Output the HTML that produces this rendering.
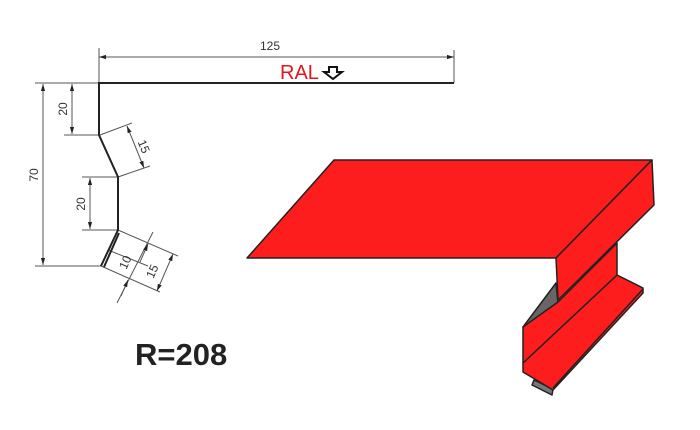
<!DOCTYPE html>
<html><head><style>body{margin:0;background:#fff}svg{display:block}</style></head><body>
<svg width="700" height="430" viewBox="0 0 700 430" xmlns="http://www.w3.org/2000/svg" font-family="Liberation Sans, sans-serif">
<defs><marker id="a" viewBox="0 0 10 10" refX="10" refY="5" markerWidth="7" markerHeight="7" orient="auto-start-reverse"><path d="M0,2 L10,5 L0,8z" fill="#222"/></marker></defs>
<g stroke="#555" stroke-width="1" fill="none">
<line x1="99" y1="48" x2="99" y2="83"/><line x1="454" y1="50" x2="454" y2="83"/>
<line x1="99" y1="57" x2="454" y2="57" marker-start="url(#a)" marker-end="url(#a)"/>
<line x1="35" y1="83" x2="99" y2="83"/><line x1="35" y1="266" x2="101" y2="266"/>
<line x1="43" y1="84" x2="43" y2="265" marker-start="url(#a)" marker-end="url(#a)"/>
<line x1="64" y1="135" x2="99" y2="135"/>
<line x1="72" y1="84" x2="72" y2="134" marker-start="url(#a)" marker-end="url(#a)"/>
<line x1="82" y1="177" x2="118" y2="177"/><line x1="82" y1="230" x2="118" y2="230"/>
<line x1="90" y1="178" x2="90" y2="229" marker-start="url(#a)" marker-end="url(#a)"/>
<line x1="100" y1="135" x2="132" y2="123"/><line x1="118" y1="177" x2="150" y2="166"/>
<line x1="127" y1="126" x2="144" y2="168" marker-start="url(#a)" marker-end="url(#a)"/>
<line x1="118" y1="230" x2="178" y2="256"/><line x1="101" y1="266" x2="160" y2="292"/>
<line x1="108" y1="250" x2="148" y2="266"/>
<line x1="153" y1="232" x2="117" y2="303"/>
<line x1="148" y1="244" x2="140" y2="262" marker-start="url(#a)"/><line x1="128" y1="280" x2="121" y2="296" marker-start="url(#a)"/>
<line x1="173" y1="254" x2="157" y2="291" marker-start="url(#a)" marker-end="url(#a)"/>
</g>
<polyline points="454,83 99,83 99,135 118,177 118,230 101,266" fill="none" stroke="#222" stroke-width="2"/>
<line x1="104" y1="267" x2="119" y2="233" stroke="#222" stroke-width="2"/>
<g fill="#333" font-size="12">
<text x="270" y="50" text-anchor="middle">125</text>
<text transform="translate(38,175) rotate(-90)" text-anchor="middle">70</text>
<text transform="translate(67,109) rotate(-90)" text-anchor="middle">20</text>
<text transform="translate(85,204) rotate(-90)" text-anchor="middle">20</text>
<text transform="translate(140,148) rotate(68)" text-anchor="middle">15</text>
<text transform="translate(129,264) rotate(-66)" text-anchor="middle">10</text>
<text transform="translate(156,273) rotate(-66)" text-anchor="middle">15</text>
</g>
<text x="280" y="79" font-size="20" fill="#e8141c">RAL</text>
<path d="M329,67 h8 v5 h5 l-9,7 l-9,-7 h5z" fill="none" stroke="#111" stroke-width="2"/>
<text x="135" y="365" font-size="31" font-weight="bold" fill="#222">R=208</text>
<g stroke="#222" stroke-width="1.5" stroke-linejoin="round">
<polygon points="556,283 523,327 558,303" fill="#666"/>
<polygon points="532,385 552,395 553,389 534,380" fill="#777"/>
<polygon points="523,363 617,275 643,288 643,293 553,390 523,372" fill="#fe1d1d"/>
<line x1="553" y1="388" x2="643" y2="289"/>
<polygon points="523,327 558,302 617,243 617,275 523,363" fill="#fe1d1d"/>
<polygon points="334,160 652,160 556,258 247,258" fill="#fe1d1d"/>
<polygon points="556,258 652,160 654,205 558,300" fill="#fe1d1d"/>
</g>
</svg>
</body></html>
